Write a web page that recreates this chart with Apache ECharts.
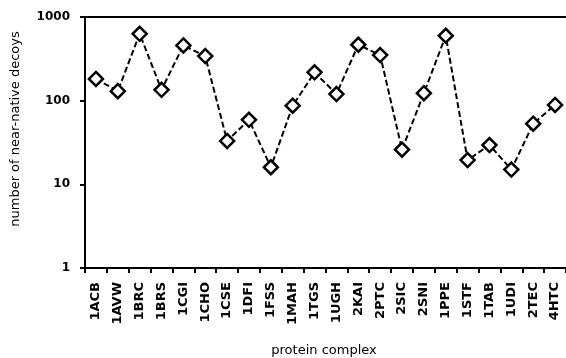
<!DOCTYPE html>
<html><head><meta charset="utf-8">
<script src="https://cdn.jsdelivr.net/npm/echarts@6/dist/echarts.min.js"></script>
<style>html,body{margin:0;padding:0;background:#fff}#c{width:566px;height:358px}</style>
</head><body><div id="c"></div>
<script>
const categories = ["1ACB","1AVW","1BRC","1BRS","1CGI","1CHO","1CSE","1DFI","1FSS","1MAH","1TGS","1UGH","2KAI","2PTC","2SIC","2SNI","1PPE","1STF","1TAB","1UDI","2TEC","4HTC"];
const decoys = [182,130,630,135,457,341,33,59,16,87,218,120,466,351,26,123,597,19.5,29.5,15,53,89];
const yTicks = [1,10,100,1000];
const xTitle = "protein complex";
const yTitle = "number of near-native decoys";

const chart = echarts.init(document.getElementById('c'), null, {renderer:'canvas'});
const font = "DejaVu Sans";
chart.setOption({
  animation:false,
  backgroundColor:'#fff',
  grid:{left:85, top:17, right:-2, bottom:90, show:false, containLabel:false},
  xAxis:[{
    type:'category', data:categories, boundaryGap:true,
    axisLine:{lineStyle:{color:'#000', width:2}},
    axisTick:{show:true, interval:0, inside:false, length:5, lineStyle:{color:'#000', width:2}},
    axisLabel:{interval:0, rotate:90, color:'#000', fontFamily:font, fontWeight:'bold', fontSize:13, margin:14, padding:[7,0,0,0]},
    splitLine:{show:false}
  },{
    type:'category', data:categories, position:'top', boundaryGap:true,
    axisLine:{show:true, lineStyle:{color:'#000', width:2}},
    axisTick:{show:false}, axisLabel:{show:false}, splitLine:{show:false}
  }],
  yAxis:{
    type:'log', logBase:10, min:yTicks[0], max:yTicks[yTicks.length-1],
    axisLine:{show:true, lineStyle:{color:'#000', width:2}},
    axisTick:{show:true, inside:false, length:5, lineStyle:{color:'#000', width:2}},
    minorTick:{show:false},
    axisLabel:{color:'#000', fontFamily:font, fontWeight:'bold', fontSize:12, margin:15, formatter:function(v){return String(Math.round(v));}},
    splitLine:{show:false}
  },
  graphic:[
    {type:'text', x:16, y:129, rotation:Math.PI/2, style:{text:yTitle, fill:'#000', font:'13px "DejaVu Sans"', textAlign:'center', textVerticalAlign:'middle'}},
    {type:'text', x:324, y:351, style:{text:xTitle, fill:'#000', font:'13px "DejaVu Sans"', textAlign:'center', textVerticalAlign:'middle'}}
  ],
  series:[{
    type:'line', data:decoys, xAxisIndex:0,
    lineStyle:{color:'#000', width:2, type:[6,3]},
    symbol:'diamond', symbolSize:14, showAllSymbol:true,
    itemStyle:{color:'#fff', borderColor:'#000', borderWidth:2.5}
  }]
});
</script></body></html>
